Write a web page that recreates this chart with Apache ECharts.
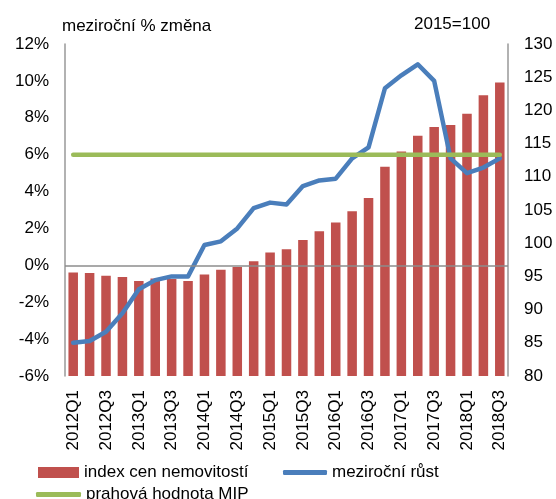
<!DOCTYPE html>
<html>
<head>
<meta charset="utf-8">
<script src="https://cdn.jsdelivr.net/npm/echarts@6/dist/echarts.min.js"></script>
<style>
  html, body { margin: 0; padding: 0; background: #fff; }
  #chart { width: 556px; height: 499px; }
</style>
</head>
<body>
<div id="chart"></div>
<script>
// ctvrtleti 2012Q1 - 2018Q3
const categories = [
  '2012Q1', '2012Q2', '2012Q3', '2012Q4',
  '2013Q1', '2013Q2', '2013Q3', '2013Q4',
  '2014Q1', '2014Q2', '2014Q3', '2014Q4',
  '2015Q1', '2015Q2', '2015Q3', '2015Q4',
  '2016Q1', '2016Q2', '2016Q3', '2016Q4',
  '2017Q1', '2017Q2', '2017Q3', '2017Q4',
  '2018Q1', '2018Q2', '2018Q3'
]
// index cen nemovitostí (2015=100), prava osa
const indexCen = [
  95.6, 95.5, 95.1, 94.9,
  94.3, 94.7, 94.6, 94.3,
  95.3, 96.0, 96.4, 97.3,
  98.6, 99.1, 100.5, 101.8,
  103.1, 104.8, 106.8, 111.5,
  113.8, 116.2, 117.5, 117.8,
  119.5, 122.3, 124.2
]
// meziroční růst v %, leva osa
const mezirocniRust = [
  -4.2, -4.1, -3.6, -2.6,
  -1.3, -0.8, -0.6, -0.6,
  1.1, 1.3, 2.0, 3.1,
  3.4, 3.3, 4.3, 4.6,
  4.7, 5.8, 6.4, 9.6,
  10.3, 10.9, 10.0, 5.8,
  5.0, 5.3, 5.8
]
// prahová hodnota MIP (%)
const prahMIP = 6
const leftTicks = { min: -6, max: 12, interval: 2 }
const rightTicks = { min: 80, max: 130, interval: 5 }

const font = 'Liberation Sans, Arial, sans-serif'
const txt = { color: '#000', fontFamily: font, fontSize: 17 }

const chart = echarts.init(document.getElementById('chart'))
chart.setOption({
  animation: false,
  textStyle: { fontFamily: font },
  title: [
    { text: 'meziroční % změna', left: 57, top: 13, textStyle: Object.assign({ fontWeight: 'normal' }, txt) },
    { text: '2015=100', left: 409, top: 11, textStyle: Object.assign({ fontWeight: 'normal' }, txt) }
  ],
  grid: { left: 65, right: 48, top: 44, bottom: 123 },
  legend: [
    {
      left: 33,
      top: 459,
      itemWidth: 41,
      itemHeight: 11,
      textStyle: txt,
      data: [{ name: 'index cen nemovitostí', icon: 'rect' }]
    },
    {
      left: 278,
      top: 459,
      itemWidth: 44,
      itemHeight: 5,
      textStyle: txt,
      data: [{ name: 'meziroční růst', icon: 'roundRect' }]
    },
    {
      left: 31,
      top: 481,
      itemWidth: 45,
      itemHeight: 5,
      textStyle: txt,
      data: [{ name: 'prahová hodnota MIP', icon: 'roundRect' }]
    }
  ],
  xAxis: {
    type: 'category',
    data: categories,
    axisLine: { show: false },
    axisTick: { show: false },
    axisLabel: Object.assign({ interval: 1, rotate: 90, margin: 14 }, txt)
  },
  yAxis: [
    {
      type: 'value',
      min: leftTicks.min,
      max: leftTicks.max,
      interval: leftTicks.interval,
      splitLine: { show: false },
      axisTick: { show: false },
      axisLine: { show: true, lineStyle: { color: '#999', width: 1.5 } },
      axisLabel: Object.assign({ formatter: '{value}%', margin: 16 }, txt)
    },
    {
      type: 'value',
      min: rightTicks.min,
      max: rightTicks.max,
      interval: rightTicks.interval,
      splitLine: { show: false },
      axisTick: { show: false },
      axisLine: { show: true, lineStyle: { color: '#999', width: 1.5 } },
      axisLabel: Object.assign({ margin: 16 }, txt)
    }
  ],
  series: [
    {
      name: 'index cen nemovitostí',
      type: 'bar',
      yAxisIndex: 1,
      barWidth: '58%',
      itemStyle: { color: '#C0504D' },
      data: indexCen
    },
    {
      name: 'meziroční růst',
      type: 'line',
      yAxisIndex: 0,
      symbol: 'none',
      lineStyle: { color: '#4A7EBB', width: 4.5, cap: 'round', join: 'round' },
      itemStyle: { color: '#4A7EBB' },
      data: mezirocniRust,
      markLine: {
        silent: true,
        symbol: 'none',
        label: { show: false },
        lineStyle: { color: '#8c8c8c', width: 1.5, type: 'solid' },
        data: [{ yAxis: 0 }]
      }
    },
    {
      name: 'prahová hodnota MIP',
      type: 'line',
      yAxisIndex: 0,
      symbol: 'none',
      lineStyle: { color: '#9BBB59', width: 4.5, cap: 'round' },
      itemStyle: { color: '#9BBB59' },
      data: categories.map(() => prahMIP)
    }
  ]
})
</script>
</body>
</html>
